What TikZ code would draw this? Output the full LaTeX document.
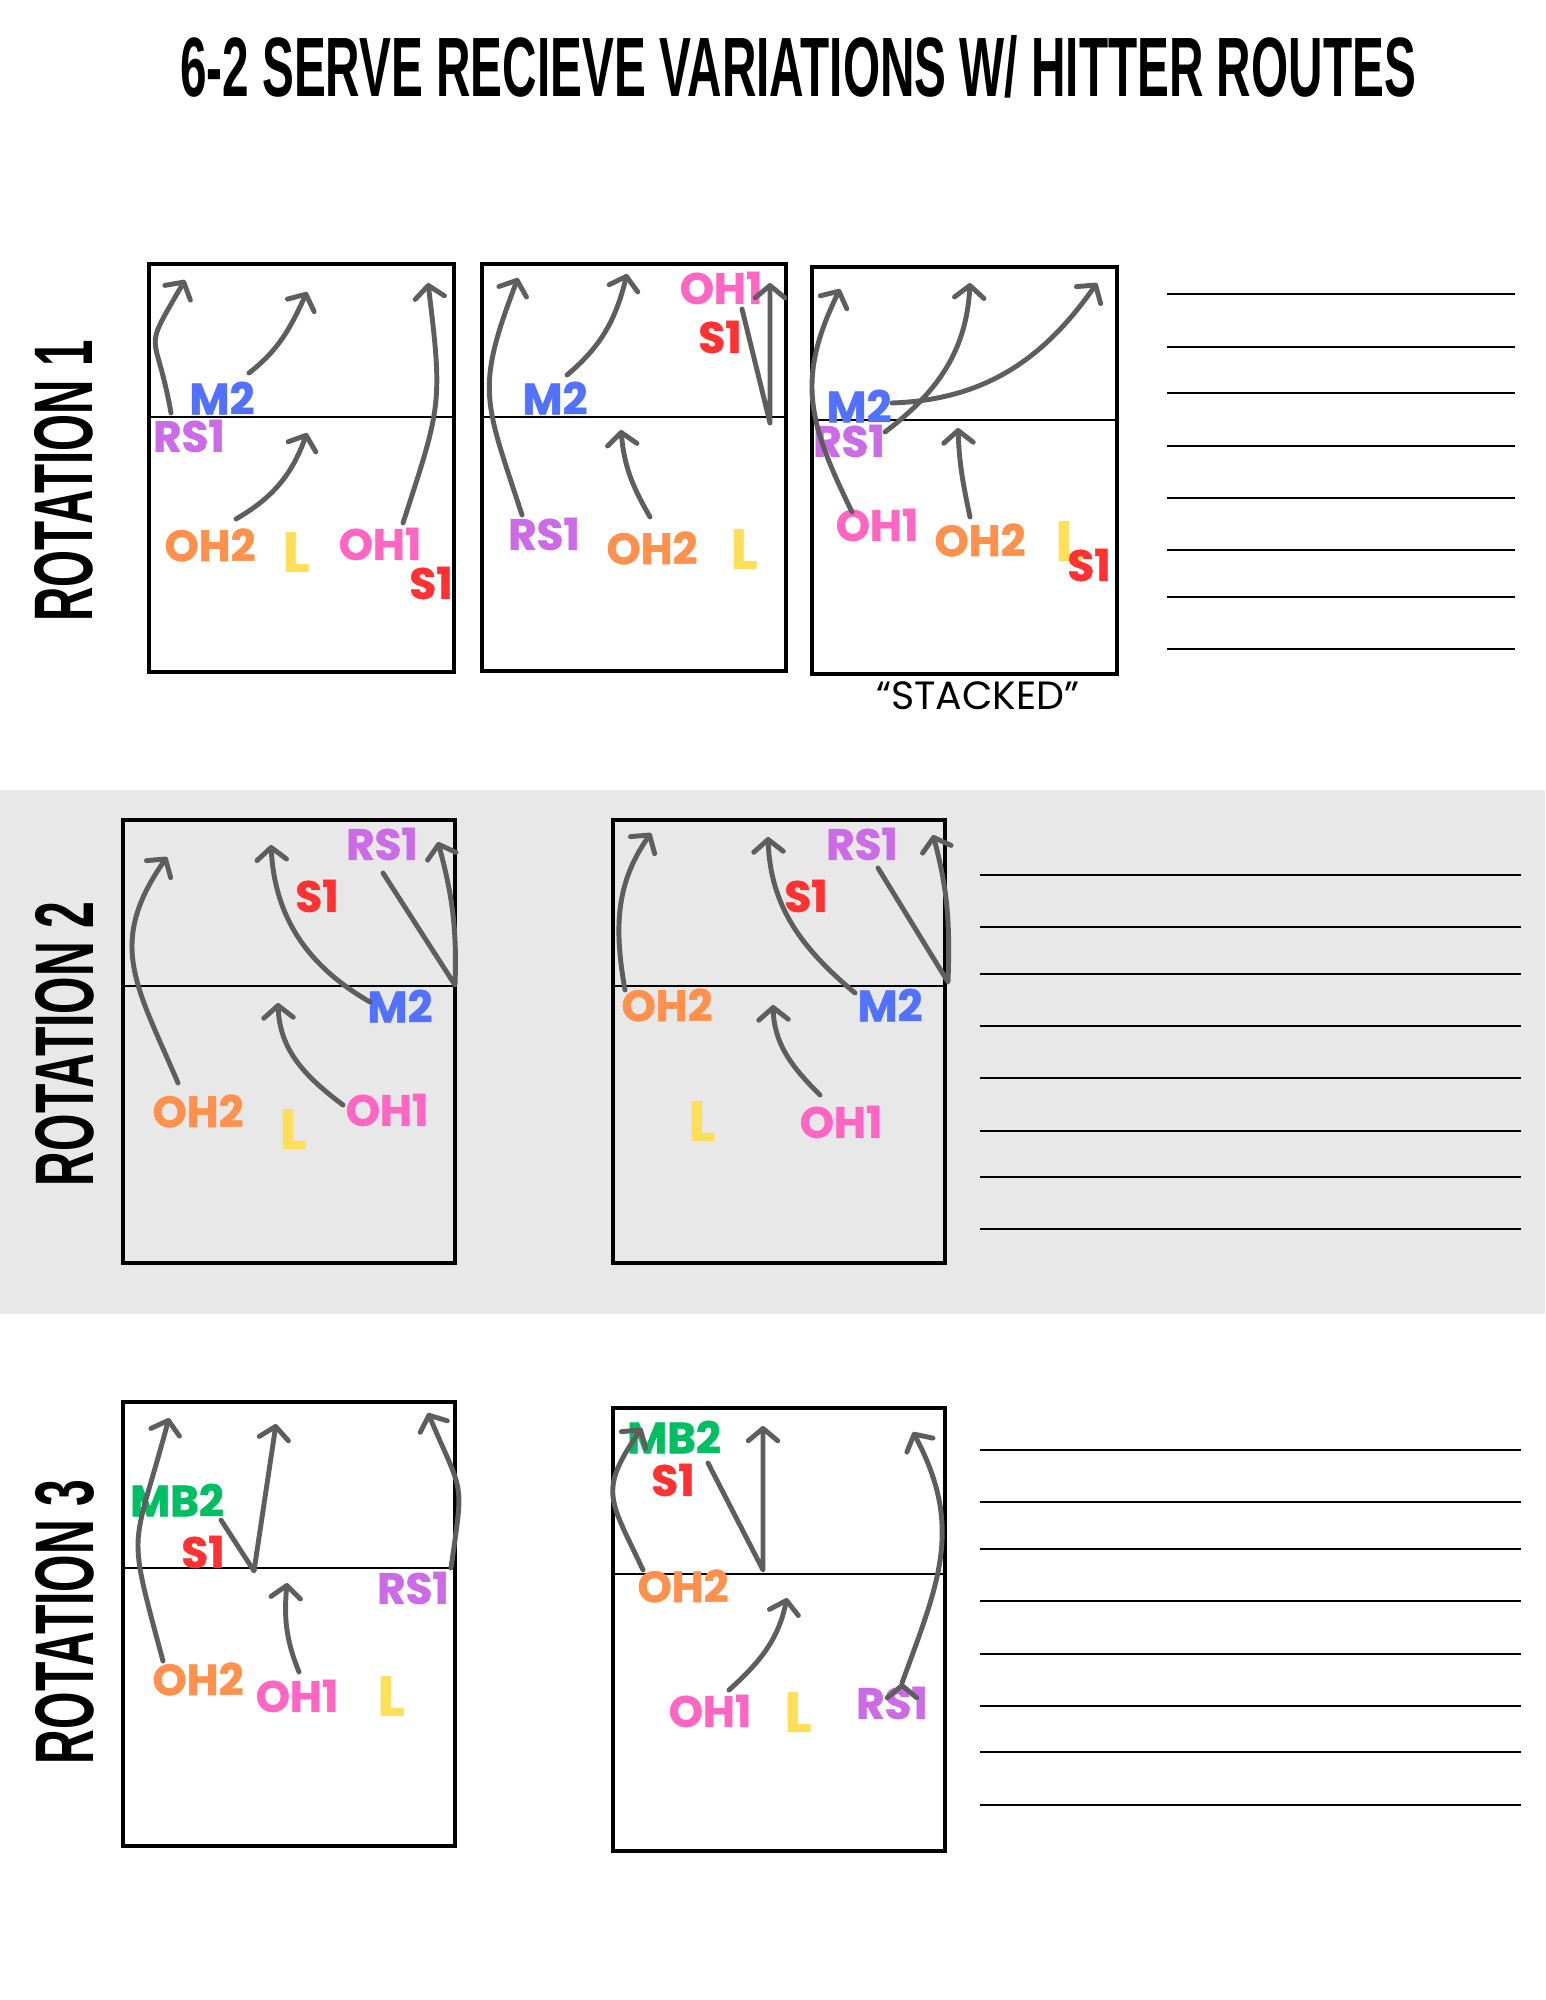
\documentclass[tikz,border=0pt]{standalone}
\usepackage{fontspec}
\usepackage{graphicx}
\setmainfont{Poppins}[BoldFeatures={FakeBold=1.2}]
\newfontfamily\titrefont{Liberation Sans}
\usetikzlibrary{arrows.meta}
\definecolor{gris}{RGB}{94,94,94}
\definecolor{fondgris}{RGB}{232,232,232}
\definecolor{cM}{RGB}{82,113,255}
\definecolor{cRS}{RGB}{203,108,230}
\definecolor{cOHdeux}{RGB}{255,145,77}
\definecolor{cOHun}{RGB}{255,102,196}
\definecolor{cL}{RGB}{255,222,89}
\definecolor{cS}{RGB}{255,49,49}
\definecolor{cMB}{RGB}{0,191,99}

\begin{document}
\begin{tikzpicture}[x=0.01cm, y=0.01cm]
	\tikzstyle{joueur}=[inner sep=0pt, font=\fontsize{12.4}{14}\selectfont\bfseries]
	\tikzstyle{libero}=[inner sep=0pt, font=\fontsize{16}{18}\selectfont\bfseries, text=cL]
	\tikzstyle{trajet}=[draw=gris, line width=1.4pt, line cap=round, line join=round, -{Straight Barb[length=3.5pt,width=8.4pt,round]}]
	\tikzstyle{cadre}=[draw=black, line width=1.2pt]
	\tikzstyle{filet}=[draw=black, line width=0.6pt]
	\tikzstyle{ligne}=[draw=black, line width=0.7pt]

	\useasboundingbox (0,0) rectangle (1545,-2000);
	\fill[fondgris] (0,-790) rectangle (1545,-1314);

	% TITRES
	\node[inner sep=0pt] (titre) at (798,-67) {\resizebox{12.35cm}{0.61cm}{\titrefont\bfseries 6-2 SERVE RECIEVE VARIATIONS W/ HITTER ROUTES}};
	\node[rotate=90, inner sep=0pt] (rot1) at (64,-481) {\resizebox{2.81cm}{0.58cm}{\titrefont\bfseries ROTATION 1}};
	\node[rotate=90, inner sep=0pt] (rot2) at (65,-1044) {\resizebox{2.84cm}{0.58cm}{\titrefont\bfseries ROTATION 2}};
	\node[rotate=90, inner sep=0pt] (rot3) at (65,-1622) {\resizebox{2.84cm}{0.58cm}{\titrefont\bfseries ROTATION 3}};

	% TERRAINS
	\draw[cadre] (149,-264) rectangle (454,-672);
	\draw[filet] (149,-417) -- (454,-417);
	\draw[cadre] (482,-264) rectangle (786,-671);
	\draw[filet] (482,-417) -- (786,-417);
	\draw[cadre] (812,-267) rectangle (1117,-674);
	\draw[filet] (812,-420) -- (1117,-420);
	\draw[cadre] (123,-820) rectangle (455,-1263);
	\draw[filet] (123,-986) -- (455,-986);
	\draw[cadre] (613,-820) rectangle (945,-1263);
	\draw[filet] (613,-986) -- (945,-986);
	\draw[cadre] (123,-1402) rectangle (455,-1846);
	\draw[filet] (123,-1568) -- (455,-1568);
	\draw[cadre] (613,-1408) rectangle (945,-1851);
	\draw[filet] (613,-1574) -- (945,-1574);

	\node[inner sep=0pt] (empile) at (978,-696) {\resizebox{2.03cm}{!}{“STACKED”}};

	% LIGNES DE NOTES
	\draw[ligne] (1167,-294) -- (1515,-294);
	\draw[ligne] (1167,-347) -- (1515,-347);
	\draw[ligne] (1167,-393) -- (1515,-393);
	\draw[ligne] (1167,-446) -- (1515,-446);
	\draw[ligne] (1167,-498) -- (1515,-498);
	\draw[ligne] (1167,-550) -- (1515,-550);
	\draw[ligne] (1167,-597) -- (1515,-597);
	\draw[ligne] (1167,-649) -- (1515,-649);

	\draw[ligne] (980,-875) -- (1521,-875);
	\draw[ligne] (980,-927) -- (1521,-927);
	\draw[ligne] (980,-974) -- (1521,-974);
	\draw[ligne] (980,-1026) -- (1521,-1026);
	\draw[ligne] (980,-1078) -- (1521,-1078);
	\draw[ligne] (980,-1131) -- (1521,-1131);
	\draw[ligne] (980,-1177) -- (1521,-1177);
	\draw[ligne] (980,-1229) -- (1521,-1229);

	\draw[ligne] (980,-1450) -- (1521,-1450);
	\draw[ligne] (980,-1502) -- (1521,-1502);
	\draw[ligne] (980,-1549) -- (1521,-1549);
	\draw[ligne] (980,-1601) -- (1521,-1601);
	\draw[ligne] (980,-1654) -- (1521,-1654);
	\draw[ligne] (980,-1706) -- (1521,-1706);
	\draw[ligne] (980,-1752) -- (1521,-1752);
	\draw[ligne] (980,-1805) -- (1521,-1805);

	% JOUEURS
	\node[joueur, text=cM] (M2a) at (222,-398) {M2};
	\node[joueur, text=cRS] (RS1a) at (189,-436) {RS1};
	\node[joueur, text=cOHdeux] (OH2a) at (210,-545) {OH2};
	\node[libero] (La) at (296,-552) {L};
	\node[joueur, text=cOHun] (OH1a) at (380,-544) {OH1};
	\node[joueur, text=cS] (S1a) at (431,-583) {S1};

	\node[joueur, text=cM] (M2b) at (555,-398) {M2};
	\node[joueur, text=cRS] (RS1b) at (544,-534) {RS1};
	\node[joueur, text=cOHdeux] (OH2b) at (652,-548) {OH2};
	\node[libero] (Lb) at (744,-549) {L};
	\node[joueur, text=cOHun] (OH1b) at (721,-288) {OH1};
	\node[joueur, text=cS] (S1b) at (720,-337) {S1};

	\node[joueur, text=cM] (M2c) at (859,-406) {M2};
	\node[joueur, text=cRS] (RS1c) at (849,-441) {RS1};
	\node[joueur, text=cOHun] (OH1c) at (877,-525) {OH1};
	\node[joueur, text=cOHdeux] (OH2c) at (980,-540) {OH2};
	\node[libero] (Lc) at (1069,-541) {L};
	\node[joueur, text=cS] (S1c) at (1089,-565) {S1};

	\node[joueur, text=cRS] (RS1d) at (382,-844) {RS1};
	\node[joueur, text=cS] (S1d) at (317,-896) {S1};
	\node[joueur, text=cM] (M2d) at (400,-1006) {M2};
	\node[joueur, text=cOHdeux] (OH2d) at (198,-1111) {OH2};
	\node[libero] (Ld) at (293,-1129) {L};
	\node[joueur, text=cOHun] (OH1d) at (387,-1110) {OH1};

	\node[joueur, text=cRS] (RS1e) at (862,-844) {RS1};
	\node[joueur, text=cS] (S1e) at (806,-896) {S1};
	\node[joueur, text=cOHdeux] (OH2e) at (667,-1005) {OH2};
	\node[joueur, text=cM] (M2e) at (890,-1005) {M2};
	\node[libero] (Le) at (702,-1121) {L};
	\node[joueur, text=cOHun] (OH1e) at (841,-1122) {OH1};

	\node[joueur, text=cMB] (MB2f) at (177,-1500) {MB2};
	\node[joueur, text=cS] (S1f) at (203,-1552) {S1};
	\node[joueur, text=cRS] (RS1f) at (413,-1588) {RS1};
	\node[joueur, text=cOHdeux] (OH2f) at (198,-1679) {OH2};
	\node[joueur, text=cOHun] (OH1f) at (297,-1696) {OH1};
	\node[libero] (Lf) at (391,-1696) {L};

	\node[joueur, text=cMB] (MB2g) at (674,-1437) {MB2};
	\node[joueur, text=cS] (S1g) at (673,-1480) {S1};
	\node[joueur, text=cOHdeux] (OH2g) at (683,-1586) {OH2};
	\node[joueur, text=cOHun] (OH1g) at (710,-1711) {OH1};
	\node[libero] (Lg) at (798,-1712) {L};
	\node[joueur, text=cRS] (RS1g) at (892,-1703) {RS1};

	% DEPARTS ET ARRIVEES
	\coordinate (dRS1a) at (171,-413);  \coordinate (fRS1a) at (185,-280);
	\coordinate (dM2a) at (249,-373);   \coordinate (fM2a) at (307,-292);
	\coordinate (dOH2a) at (236,-519);  \coordinate (fOH2a) at (307,-433);
	\coordinate (dOH1a) at (403,-523);  \coordinate (fOH1a) at (428,-283);

	\coordinate (dRS1b) at (522,-515);  \coordinate (fRS1b) at (518,-278);
	\coordinate (dM2b) at (567,-375);   \coordinate (fM2b) at (627,-274);
	\coordinate (dOH2b) at (650,-517);  \coordinate (fOH2b) at (621,-430);
	\coordinate (dS1b) at (742,-309);   \coordinate (pS1b) at (770,-423);  \coordinate (fS1b) at (770,-283);

	\coordinate (dOH1c) at (852,-512);  \coordinate (fOH1c) at (840,-289);
	\coordinate (dRS1c) at (885,-432);  \coordinate (fRS1c) at (970,-283);
	\coordinate (dM2c) at (892,-403);   \coordinate (fM2c) at (1097,-283);
	\coordinate (dOH2c) at (970,-517);  \coordinate (fOH2c) at (958,-428);

	\coordinate (dOH2d) at (178,-1083); \coordinate (fOH2d) at (167,-857);
	\coordinate (dM2d) at (370,-1002);  \coordinate (fM2d) at (271,-845);
	\coordinate (dOH1d) at (343,-1105); \coordinate (fOH1d) at (278,-1003);
	\coordinate (dRS1d) at (383,-873);  \coordinate (pRS1d) at (455,-985); \coordinate (fRS1d) at (438,-842);

	\coordinate (dOH2e) at (625,-990);  \coordinate (fOH2e) at (651,-833);
	\coordinate (dM2e) at (855,-993);   \coordinate (fM2e) at (768,-837);
	\coordinate (dOH1e) at (820,-1095); \coordinate (fOH1e) at (773,-1005);
	\coordinate (dRS1e) at (878,-868);  \coordinate (pRS1e) at (948,-982); \coordinate (fRS1e) at (933,-835);

	\coordinate (dOH2f) at (163,-1661); \coordinate (fOH2f) at (169,-1418);
	\coordinate (dS1f) at (221,-1520);  \coordinate (pS1f) at (254,-1571); \coordinate (fS1f) at (276,-1424);
	\coordinate (dOH1f) at (299,-1672); \coordinate (fOH1f) at (287,-1583);
	\coordinate (dRS1f) at (451,-1568); \coordinate (fRS1f) at (428,-1413);

	\coordinate (dOH2g) at (643,-1570); \coordinate (fOH2g) at (642,-1428);
	\coordinate (dS1g) at (708,-1463);  \coordinate (pS1g) at (763,-1570); \coordinate (fS1g) at (763,-1426);
	\coordinate (dOH1g) at (729,-1690); \coordinate (fOH1g) at (787,-1598);
	\coordinate (dRS1g) at (902,-1683); \coordinate (fRS1g) at (913,-1432);

	% TRAJETS
	\path[trajet]
		(dRS1a) edge[out=100, in=-120, looseness=1.7] (fRS1a)
		(dM2a) edge[out=38, in=-115] (fM2a)
		(dOH2a) edge[out=30, in=-110] (fOH2a)
		(dOH1a) edge[out=72, in=-83, looseness=1.3] (fOH1a)

		(dRS1b) edge[out=108, in=-111, looseness=1.3] (fRS1b)
		(dM2b) edge[out=40, in=-104] (fM2b)
		(dOH2b) edge[out=120, in=-85] (fOH2b)

		(dOH1c) edge[out=116, in=-116, looseness=1.15] (fOH1c)
		(dRS1c) edge[out=37, in=-93] (fRS1c)
		(dM2c) edge[out=2, in=-125] (fM2c)
		(dOH2c) edge[out=102, in=-88] (fOH2c)

		(dOH2d) edge[out=113, in=-125, looseness=1.2] (fOH2d)
		(dM2d) edge[out=150, in=-87] (fM2d)
		(dOH1d) edge[out=143, in=-88] (fOH1d)

		(dOH2e) edge[out=100, in=-125] (fOH2e)
		(dM2e) edge[out=140, in=-88] (fM2e)
		(dOH1e) edge[out=135, in=-88] (fOH1e)

		(dOH2f) edge[out=105, in=-105, looseness=1.5] (fOH2f)
		(dOH1f) edge[out=112, in=-95] (fOH1f)
		(dRS1f) edge[out=82, in=-67, looseness=1.5] (fRS1f)

		(dOH2g) edge[out=115, in=-125, looseness=1.4] (fOH2g)
		(dOH1g) edge[out=42, in=-102] (fOH1g)
		(dRS1g) edge[out=70, in=-62, looseness=1.1] (fRS1g)
	;
	\draw[trajet] (dS1b) -- (pS1b) -- (fS1b);
	\draw[trajet] (dRS1d) -- (pRS1d) to[out=88, in=-75] (fRS1d);
	\draw[trajet] (dRS1e) -- (pRS1e) to[out=88, in=-75] (fRS1e);
	\draw[trajet] (dS1f) -- (pS1f) -- (fS1f);
	\draw[trajet] (dS1g) -- (pS1g) -- (fS1g);
\end{tikzpicture}
\end{document}
